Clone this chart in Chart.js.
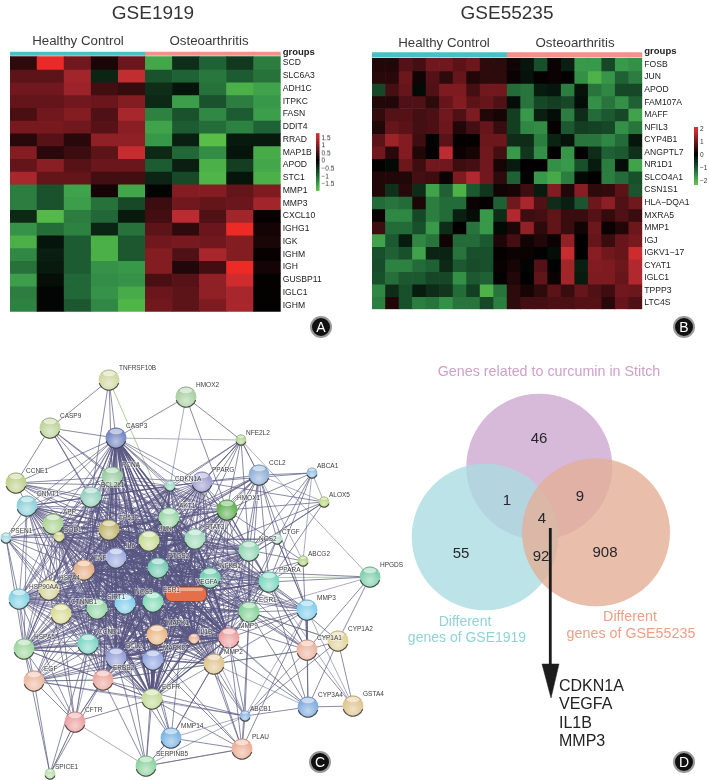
<!DOCTYPE html>
<html>
<head>
<meta charset="utf-8">
<title>Curcumin genes in osteoarthritis</title>
<script src="https://cdn.jsdelivr.net/npm/chart.js@4"></script>
<style>
    html, body { margin: 0; background: #fff; }
    #page { position: relative; width: 709px; height: 780px; overflow: hidden; font-family: "Liberation Sans", Arial, sans-serif; }
    canvas { position: absolute; filter: blur(0.4px); }
    .txt { position: absolute; transform: translate(-50%, -50%); white-space: nowrap; line-height: 1; filter: blur(0.3px); }
    .left { transform: translate(0, -50%); }
    .badge { position: absolute; width: 18px; height: 18px; margin: -11px 0 0 -11px; border: 2px solid #999; border-radius: 50%; background: #111; color: #fff; font-size: 14px; line-height: 18px; text-align: center; box-shadow: inset 0 0 0 1px #111; }
</style>
</head>
<body>
<div id="page"></div>
<script>
// panel A, GSE1919
const samplesA = ['C1', 'C2', 'C3', 'C4', 'C5', 'O1', 'O2', 'O3', 'O4', 'O5'];
const genesA = ['SCD', 'SLC6A3', 'ADH1C', 'ITPKC', 'FASN', 'DDIT4', 'RRAD', 'MAP1B', 'APOD', 'STC1',
    'MMP1', 'MMP3', 'CXCL10', 'IGHG1', 'IGK', 'IGHM', 'IGH', 'GUSBP11', 'IGLC1', 'IGHM'];
const valuesA = [
    [.35, 1.8, .85, .2, .8, -1.6, -.45, -.95, -.55, -1.2],
    [.7, .7, 1.25, -.35, 1.5, -.8, -.95, -1.15, -.9, -1.1],
    [.85, .85, 1.2, .5, .4, -.45, -.2, -1.1, -1.7, -1.55],
    [.75, .75, .85, .8, 1, -.4, -1.5, -.8, -1.2, -1.45],
    [.55, .85, 1, .6, 1.3, -1.25, -.8, -1.3, -.9, -1.5],
    [.9, .9, .85, .65, 1.05, -1.55, -.9, -1.05, -1.25, -.95],
    [.3, .65, .3, 1.1, 1.1, -1.45, -.3, -1.95, -.25, -.25],
    [1, .3, .45, .7, 1.55, -.4, -1, -1.35, -.2, -1.65],
    [.75, 1.05, .65, .8, .8, -.9, -.3, -1.7, -.6, -1.6],
    [1.3, .75, .75, .5, .5, -.35, -.7, -1.75, -.2, -1.7],
    [-1.2, -.8, -1.55, .15, -1.6, -.05, 1, 1, .75, .95],
    [-1.2, -.8, -1.5, -1.1, -.7, .45, .85, .75, .8, 1.25],
    [-.4, -1.8, -1.2, -1, -.25, .5, 1.45, .6, 1.25, .05],
    [-1.4, -1.05, -1.25, -.35, -1.1, .7, .35, .8, 1.85, .15],
    [-1.7, -.2, -.9, -1.7, -.85, .85, .9, .85, 1, .2],
    [-1.3, -.3, -.9, -1.7, -.85, 1, .6, 1.3, 1, .05],
    [-1.1, -.25, -.9, -1.4, -1.45, 1, .25, .5, 1.85, .15],
    [-1.5, -.15, -1, -1.35, -1.4, .55, .65, 1.1, 1.6, .03],
    [-1.2, -.05, -1, -1.4, -1.65, .8, .7, 1.1, 1.3, .03],
    [-1.25, -.05, -.85, -1.3, -1.75, .85, .7, .95, 1.3, .02]
];

// panel B, GSE55235
const samplesB = ['C1', 'C2', 'C3', 'C4', 'C5', 'C6', 'C7', 'C8', 'C9', 'C10',
    'O1', 'O2', 'O3', 'O4', 'O5', 'O6', 'O7', 'O8', 'O9', 'O10'];
const genesB = ['FOSB', 'JUN', 'APOD', 'FAM107A', 'MAFF', 'NFIL3', 'CYP4B1', 'ANGPTL7', 'NR1D1', 'SLCO4A1',
    'CSN1S1', 'HLA\u2212DQA1', 'MXRA5', 'MMP1', 'IGJ', 'IGKV1\u221217', 'CYAT1', 'IGLC1', 'TPPP3', 'LTC4S'];
const valuesB = [
    [.3, .3, .75, .6, 1, 1, .8, .95, .4, .4, .15, -.25, -.9, .1, -.35, -1.7, -1.7, -.8, -1.7, -1.6],
    [.35, .35, .95, .15, .75, .4, .9, .3, .4, .4, .1, -.2, .05, .1, .03, -1.6, -2, -1.65, -1.1, -1.4],
    [-.8, .6, .9, -.12, .7, 1.1, 1.1, .6, 1, 1, -1.2, -1.3, -.3, -.25, -1.4, -.2, -1.3, -1.5, -.8, -.8],
    [.3, .3, .7, .7, .4, .9, 1.15, .8, .9, .7, -.15, -1.3, -.8, -.7, -.8, -.15, -1.6, -1.3, -1.6, -1.1],
    [.45, .75, .75, .6, .65, 1, .7, 1.1, .3, .2, -.7, -1.7, -.35, -.15, -1.4, -.5, -1.2, -1, -.8, -1.8],
    [.3, .9, .8, .6, .65, .95, .3, .6, .9, .5, -.7, -1.5, -1.55, .05, -1, -.7, -.75, -.8, -1.6, -1.3],
    [.8, 1.4, 1.15, .55, -.05, .8, .05, .05, .95, .95, -.5, -.5, -1.4, -.4, -.2, -1.3, -1.3, -1.5, -1.2, -.25],
    [1, .35, 1.15, .3, .03, 1.7, .1, .2, 1, .6, -1.7, -.6, -1.6, .02, -1.65, .03, -.5, -1.1, -1, -.55],
    [.05, -.1, .95, .55, 1, 1, .55, .6, 1, .2, -.3, .02, .02, -1.6, -1.7, -.9, -.3, -1.4, -.15, -1.8],
    [.3, .3, .3, .6, .55, .1, 1.1, 1.6, 1, .4, -1.1, -.05, -1.7, -1.9, -1.4, -.1, .02, -1.4, -1.2, -.9],
    [.3, -.55, .35, -.5, -1.8, -1.1, -2, -1, -.6, .15, .2, .55, -.3, 1.15, .3, 1.2, .4, .45, .8, -.95],
    [-1.2, -1.3, -1.2, .25, -1.4, -1.2, -1.2, .1, .03, -1.1, 1, 1.5, .7, -.5, -.35, -.95, .95, 1.25, .7, 1],
    [.1, -1.5, -1.5, -.8, -1.4, -1.2, -.35, -.15, -1.7, -.5, 1.6, .55, .6, .85, .5, .5, .75, .45, .7, .5],
    [.55, -1.2, -1.2, -.9, -1.7, -.5, .02, -1.3, -1.7, -.1, .25, 1.3, .4, .85, .5, .15, .95, .1, .3, .95],
    [-1.8, -1, -.3, -1.5, -1.3, .15, -1.2, -1.2, -1, .25, .6, .15, .3, .1, 1.3, .02, .9, .5, .9, 1.05],
    [-.9, -1.1, -.9, -1.8, -.4, -.4, -1.3, -.9, -.9, .05, .1, .1, .03, -.15, 1.8, .02, 1.2, 1, .9, 1.85],
    [-.85, -1.45, -1.45, -1.2, -1.1, -.45, -1, -.85, -.9, .08, .2, -.05, .75, -.02, 1.45, -.35, 1.15, 1.1, .95, 1.6],
    [-.9, -1.25, -1, -1, -.8, -.8, -1.6, -1, -1.1, .03, .3, .02, .85, .1, 1.45, -.3, 1.1, 1.1, .9, 1.6],
    [-1.5, -.5, -.9, -.3, -.5, -.6, -1.2, -.7, -2, -1.3, .4, .2, .4, .8, .5, .9, .7, .55, 1, .95],
    [-1.4, .3, -.9, -1.4, -1.3, -1.6, -1.3, -1.3, -.8, -1.4, .4, .6, .6, .65, .65, .75, .75, .35, .9, .7]
];
const ticksLegendA = [1.5, 1, .5, 0, -.5, -1, -1.5];
const ticksLegendB = [2, 1, 0, -1, -2];

// panel C, network nodes (page pixels)
const nodeNames = ['TNFRSF10B', 'CASP9', 'CASP3', 'HMOX2', 'CCNE1', 'PCNA', 'BCL2L1', 'CDKN1A', 'PPARG', 'NFE2L2', 'CCL2', 'ABCA1',
    'ALOX5', 'DNMT1', 'APP', 'SOD1', 'PSEN1', 'TP53', 'AKT1', 'HMOX1', 'JUN', 'STAT3', 'CTGF', 'NOS2', 'ABCG2', 'HPGDS',
    'IL6', 'TNF', 'PTGS2', 'NFKB1', 'PPARA', 'HSP90AA1', 'HSPA4', 'CTNNB1', 'SIRT1', 'NOS3', 'ESR1', 'VEGFA', 'MAPK1', 'IL1B',
    'HSPA5', 'CCND1', 'BCL2', 'MAPK8', 'EGR1', 'MMP3', 'MMP9', 'MMP2', 'CYP1A1', 'CYP1A2', 'CYP3A4', 'GSTA4', 'ABCB1', 'PLAU',
    'EGF', 'ERBB2', 'EGFR', 'CFTR', 'MMP14', 'SERPINB5', 'SPICE1'];
const nodeX = [109, 50, 116, 186, 16, 112, 91, 170, 202, 241, 259, 312,
    324, 27, 53, 59, 6, 109, 169, 227, 149, 195, 277, 249, 303, 370,
    116, 84, 158, 210, 269, 19, 49, 61, 97, 125, 153, 186, 157, 194,
    24, 88, 116, 153, 249, 307, 229, 214, 307, 338, 308, 353, 245, 242,
    34, 103, 152, 75, 171, 146, 50];
const nodeY = [380, 428, 438, 397, 483, 477, 497, 486, 482, 440, 475, 473,
    502, 506, 524, 537, 538, 530, 518, 510, 541, 539, 539, 551, 561, 577,
    558, 570, 568, 578, 582, 599, 590, 614, 609, 604, 602, 594, 635, 639,
    649, 644, 658, 660, 612, 610, 638, 664, 650, 641, 707, 706, 716, 749,
    681, 680, 699, 722, 738, 766, 774];
const coreNodes = ['BCL2L1', 'CDKN1A', 'PPARG', 'TP53', 'AKT1', 'HMOX1', 'JUN', 'STAT3', 'NOS2', 'IL6', 'TNF', 'PTGS2', 'NFKB1',
    'PPARA', 'HSP90AA1', 'HSPA4', 'CTNNB1', 'SIRT1', 'NOS3', 'ESR1', 'VEGFA', 'MAPK1', 'IL1B', 'CCND1', 'BCL2', 'MAPK8',
    'EGR1', 'MMP9', 'MMP2', 'APP', 'HSPA5', 'SOD1', 'PCNA', 'DNMT1', 'ERBB2', 'EGFR', 'CASP3'];
const hubNodes = ['TP53', 'AKT1', 'JUN', 'STAT3', 'IL6', 'TNF', 'PTGS2', 'NFKB1', 'VEGFA', 'MAPK1', 'IL1B', 'MMP9', 'EGFR', 'CASP3', 'BCL2', 'ESR1'];
const midLinks = {
    TNFRSF10B: ['CASP3', 'PCNA', 'BCL2L1', 'CASP9'],
    CASP9: ['CASP3', 'PCNA', 'BCL2L1', 'TP53', 'AKT1', 'CCNE1', 'JUN'],
    CCNE1: ['CASP3', 'PCNA', 'CDKN1A', 'BCL2L1', 'TP53', 'AKT1', 'JUN', 'DNMT1', 'IL6', 'STAT3'],
    HMOX2: ['NFE2L2', 'HMOX1', 'CASP3'],
    CCL2: ['NFE2L2', 'PPARG', 'HMOX1', 'AKT1', 'STAT3', 'NOS2', 'PTGS2', 'NFKB1', 'IL6', 'TNF', 'ABCA1', 'PPARA', 'CTGF', 'VEGFA', 'MMP9', 'JUN', 'MMP3', 'EGR1'],
    NFE2L2: ['HMOX1', 'PPARG', 'AKT1', 'STAT3', 'NOS2', 'JUN', 'CDKN1A', 'TP53', 'PTGS2'],
    ABCA1: ['PPARG', 'PPARA', 'CTGF', 'HMOX1', 'NOS2'],
    ALOX5: ['PPARG', 'HMOX1', 'PTGS2', 'PPARA', 'NOS2', 'NFKB1'],
    CTGF: ['VEGFA', 'NFKB1', 'EGR1', 'TNF', 'MMP3', 'STAT3', 'JUN', 'MMP2'],
    ABCG2: ['PPARA', 'ESR1', 'HMOX1', 'CYP1A1', 'STAT3'],
    HPGDS: ['PTGS2', 'PPARA', 'CYP1A2', 'CYP1A1'],
    MMP3: ['EGR1', 'PPARA', 'CYP1A1', 'CTGF', 'VEGFA', 'TNF', 'IL1B', 'MMP9', 'MMP2', 'PLAU', 'IL6', 'NFKB1', 'STAT3', 'JUN'],
    CYP1A1: ['CYP1A2', 'CYP3A4', 'GSTA4', 'EGR1', 'MMP2', 'PPARA', 'ESR1', 'AKT1', 'ABCB1', 'HMOX1', 'NFKB1', 'TP53'],
    CYP1A2: ['CYP3A4', 'GSTA4', 'PPARA', 'ABCB1', 'EGR1'],
    CYP3A4: ['GSTA4', 'ABCB1', 'PPARA', 'EGR1', 'ESR1', 'MMP3'],
    ABCB1: ['EGR1', 'MMP2', 'EGFR', 'PLAU', 'TP53', 'MMP9', 'ERBB2'],
    PLAU: ['MMP2', 'EGR1', 'MMP9', 'EGFR', 'MMP14', 'SERPINB5', 'VEGFA', 'MAPK8', 'TNF'],
    MMP14: ['EGFR', 'SERPINB5', 'MMP2', 'BCL2', 'MAPK8', 'VEGFA', 'MMP9', 'TP53'],
    SERPINB5: ['EGFR', 'ERBB2', 'TP53', 'MAPK8', 'BCL2'],
    CFTR: ['ERBB2', 'EGF', 'CTNNB1', 'EGFR', 'HSP90AA1', 'HSPA5', 'HSPA4', 'STAT3', 'CCND1'],
    SPICE1: ['CFTR', 'EGF', 'ERBB2', 'CCND1', 'HSPA5'],
    EGF: ['ERBB2', 'EGFR', 'HSPA5', 'TP53', 'AKT1', 'CTNNB1', 'MAPK1', 'BCL2', 'MAPK8', 'MMP9', 'VEGFA', 'IL6', 'HSP90AA1', 'CCND1'],
    PSEN1: ['APP', 'DNMT1', 'HSP90AA1', 'TP53', 'AKT1', 'CTNNB1', 'SIRT1', 'CASP3', 'HSPA5', 'HSPA4', 'BCL2', 'IL6', 'TNF', 'SOD1']
};
const lightLinks = {
    HMOX2: ['CDKN1A'],
    NFE2L2: ['HPGDS', 'CASP3', 'CCL2'],
    CCL2: ['ALOX5', 'ABCG2'],
    ABCA1: ['ABCG2', 'ALOX5'],
    HPGDS: ['EGR1'],
    SERPINB5: ['CFTR', 'ABCB1', 'PLAU', 'MMP14'],
    CFTR: ['TP53', 'IL6'],
    ABCB1: ['MMP3', 'MMP14', 'EGF', 'VEGFA'],
    CYP3A4: ['MMP9', 'MMP2', 'TP53'],
    GSTA4: ['MMP3', 'PPARA']
};
const greenLinks = [['TNFRSF10B', 'AKT1'], ['CASP3', 'STAT3'], ['NFKB1', 'HPGDS'], ['MMP9', 'CYP3A4'], ['CFTR', 'SPICE1'],
    ['EGF', 'HMOX1'], ['ERBB2', 'CYP1A1'], ['ERBB2', 'EGF'], ['EGR1', 'CYP1A2'], ['VEGFA', 'CCL2'], ['DNMT1', 'STAT3']];

// panel D, venn circles and gene counts
const vennX = [539.3, 485, 596];
const vennY = [466.7, 537, 532.3];
const vennR = [73, 73.3, 74];
const vennCounts = ['46', '1', '9', '4', '55', '92', '908'];
const vennCountX = [539, 507, 580, 542, 461, 541, 605];
const vennCountY = [439, 501, 497, 519, 554, 557, 553];
const sharedGenes = ['CDKN1A', 'VEGFA', 'IL1B', 'MMP3'];

const page = document.getElementById('page');

function addCanvas(left, top, width, height) {
    const canvas = document.createElement('canvas');
    canvas.width = width;
    canvas.height = height;
    canvas.style.left = left + 'px';
    canvas.style.top = top + 'px';
    canvas.style.width = width + 'px';
    canvas.style.height = height + 'px';
    page.appendChild(canvas);
    return canvas;
}

function addText(text, x, y, size, color, cls) {
    const el = document.createElement('div');
    el.className = 'txt ' + (cls || '');
    el.textContent = text;
    el.style.left = x + 'px';
    el.style.top = y + 'px';
    el.style.fontSize = size + 'px';
    el.style.color = color;
    page.appendChild(el);
}

function addBadge(letter, x, y) {
    const el = document.createElement('div');
    el.className = 'badge';
    el.textContent = letter;
    el.style.left = x + 'px';
    el.style.top = y + 'px';
    page.appendChild(el);
}

const redStops = [[0, 0, 0], [122, 26, 32], [190, 45, 50], [238, 42, 39]];
const greenStops = [[0, 0, 0], [30, 95, 52], [58, 155, 75], [88, 190, 72]];

function heatColor(z, zMax) {
    const f = Math.min(Math.abs(z) / zMax, 1);
    const stops = z >= 0 ? redStops : greenStops;
    const at = [0, .5, .8, 1];
    let i = 0;
    while (i < 2 && f > at[i + 1]) i++;
    const t = (f - at[i]) / (at[i + 1] - at[i]);
    const mix = stops[i].map((c, k) => Math.round(c + (stops[i + 1][k] - c) * t));
    return `rgb(${mix[0]}, ${mix[1]}, ${mix[2]})`;
}

const baseOptions = {
    responsive: false,
    animation: false,
    events: [],
    plugins: { legend: { display: false }, tooltip: { enabled: false } }
};

function drawHeatmap(cfg) {
    const canvas = addCanvas(cfg.left, 0, cfg.width, 320);
    const rows = cfg.values.map((row, r) => ({
        data: row.map(() => [r, r + 1]),
        backgroundColor: row.map(z => heatColor(z, cfg.zMax)),
        borderWidth: 0,
        barPercentage: 1,
        categoryPercentage: 1,
        grouped: false
    }));
    const half = cfg.samples.length / 2;
    rows.push({
        data: cfg.samples.map(() => cfg.groupBar),
        backgroundColor: cfg.samples.map((_, i) => i < half ? '#47c1c6' : '#f2908a'),
        borderWidth: 0,
        barPercentage: 1,
        categoryPercentage: 1,
        grouped: false
    });
    const tickValues = [cfg.groupTick].concat(cfg.genes.map((_, i) => i + 0.5));
    new Chart(canvas.getContext('2d'), {
        type: 'bar',
        data: { labels: cfg.samples, datasets: rows },
        options: {
            ...baseOptions,
            layout: { autoPadding: false, padding: { left: cfg.padLeft, right: 0, top: cfg.padTop, bottom: cfg.padBottom } },
            scales: {
                x: { display: false },
                y: {
                    position: 'right',
                    reverse: true,
                    min: cfg.yMin,
                    max: 20,
                    grid: { display: false, drawTicks: false },
                    border: { display: false },
                    afterFit: scale => { scale.width = cfg.axisWidth; },
                    afterBuildTicks: scale => { scale.ticks = tickValues.map(value => ({ value })); },
                    ticks: {
                        autoSkip: false,
                        padding: 2,
                        minRotation: 0,
                        maxRotation: 0,
                        color: '#222',
                        font: ctx => (ctx.tick && ctx.tick.value < 0)
                            ? { family: 'Liberation Sans', size: 9.5, weight: 'bold' }
                            : { family: 'Liberation Sans', size: 8.6 },
                        callback: value => value < 0 ? 'groups' : cfg.genes[Math.floor(value)]
                    }
                }
            }
        }
    });
}

function drawColorKey(cfg) {
    const canvas = addCanvas(cfg.left, cfg.top, cfg.width, cfg.height);
    const steps = [];
    for (let v = cfg.min; v < cfg.max; v += 0.1) {
        steps.push({
            data: [[v, v + 0.11]],
            backgroundColor: heatColor(v + 0.05, cfg.zMax),
            borderWidth: 0,
            barPercentage: 1,
            categoryPercentage: 1,
            grouped: false
        });
    }
    new Chart(canvas.getContext('2d'), {
        type: 'bar',
        data: { labels: ['key'], datasets: steps },
        options: {
            ...baseOptions,
            layout: { autoPadding: false, padding: { left: cfg.padLeft, right: 0, top: 6, bottom: 6 } },
            scales: {
                x: { display: false },
                y: {
                    position: 'right',
                    min: cfg.min,
                    max: cfg.max,
                    grid: { display: false, drawTicks: false },
                    border: { display: false },
                    afterFit: scale => { scale.width = cfg.axisWidth; },
                    afterBuildTicks: scale => { scale.ticks = cfg.ticks.map(value => ({ value })); },
                    ticks: {
                        autoSkip: false,
                        padding: 2,
                        color: '#333',
                        font: { family: 'Liberation Sans', size: 6.5 },
                        callback: value => String(value).replace('-', '\u2212')
                    }
                }
            }
        }
    });
}

drawHeatmap({ left: 0, width: 345, samples: samplesA, genes: genesA, values: valuesA, zMax: 1.85, yMin: -0.55,
    groupBar: [-0.37, -0.11], groupTick: -0.37, padLeft: 10, padTop: 49.69, padBottom: 8.3, axisWidth: 64.3 });
drawHeatmap({ left: 355, width: 354, samples: samplesB, genes: genesB, values: valuesB, zMax: 2.15, yMin: -0.7,
    groupBar: [-0.446, -0.08], groupTick: -0.58, padLeft: 17, padTop: 49.5, padBottom: 10.7, axisWidth: 66.7 });
drawColorKey({ left: 310, top: 127, width: 32, height: 69.7, min: -1.93, max: 1.82, zMax: 1.85, ticks: ticksLegendA, padLeft: 6, axisWidth: 22.5 });
drawColorKey({ left: 688, top: 121, width: 21, height: 70, min: -2.3, max: 2.15, zMax: 2.15, ticks: ticksLegendB, padLeft: 6, axisWidth: 11 });

// sphere and pill images for the network nodes
const nodeColors = {
    TNFRSF10B: '#d2d9a4', CASP9: '#bfd59c', CASP3: '#7788c4', HMOX2: '#abd1a4', CCNE1: '#c2d28e', PCNA: '#9ccda4', BCL2L1: '#98d2c2',
    CDKN1A: '#9cd6c6', PPARG: '#a0a0d2', NFE2L2: '#b0d494', CCL2: '#92b2d8', ABCA1: '#94bee0', ALOX5: '#bed884', DNMT1: '#90d2dc',
    APP: '#aed496', SOD1: '#d0d48a', PSEN1: '#a2d8e0', TP53: '#c2b672', AKT1: '#9cd8aa', HMOX1: '#66b258', JUN: '#c8dc94',
    STAT3: '#a2dcbe', CTGF: '#b8e0d2', NOS2: '#94d8b6', ABCG2: '#b2d486', HPGDS: '#84d0ae', IL6: '#a0aee0', TNF: '#e6b28a',
    PTGS2: '#78ccb6', NFKB1: '#78d0b2', PPARA: '#80d8c2', HSP90AA1: '#88d4e4', HSPA4: '#d8d49a', CTNNB1: '#dcdc9a', SIRT1: '#98d8aa',
    NOS3: '#88d0ec', ESR1: '#88dcba', MAPK1: '#ecba8a', IL1B: '#ecb29a', HSPA5: '#a0d8a2', CCND1: '#80d8c6', BCL2: '#98a2d8',
    MAPK8: '#98aae0', EGR1: '#88d49a', MMP3: '#88d0ec', MMP9: '#eca2a2', MMP2: '#e0c692', CYP1A1: '#ecb6a2', CYP1A2: '#e0d49a',
    CYP3A4: '#84aee0', GSTA4: '#e0c692', ABCB1: '#8cb6e4', PLAU: '#ecb29a', EGF: '#ecbaa2', ERBB2: '#ecaaa2', EGFR: '#c6dc9a',
    CFTR: '#eca2a2', MMP14: '#80b6e4', SERPINB5: '#90d4a2', SPICE1: '#b8e0aa'
};
const smallNodes = ['CDKN1A', 'NFE2L2', 'ABCA1', 'ALOX5', 'SOD1', 'PSEN1', 'CTGF', 'ABCG2', 'IL1B', 'ABCB1', 'SPICE1'];

function sphereImage(color, r) {
    const c = document.createElement('canvas');
    c.width = c.height = 2 * r + 3;
    const m = r + 1.5;
    const g = c.getContext('2d');
    g.beginPath();
    g.arc(m, m, r, 0, Math.PI * 2);
    g.fillStyle = color;
    g.fill();
    let glow = g.createRadialGradient(m, m + r * 0.35, 0, m, m + r * 0.35, r);
    glow.addColorStop(0, 'rgba(255,255,255,.5)');
    glow.addColorStop(1, 'rgba(255,255,255,0)');
    g.fillStyle = glow;
    g.fill();
    g.beginPath();
    g.ellipse(m, m - r * 0.62, r * 0.6, r * 0.26, 0, 0, Math.PI * 2);
    g.fillStyle = 'rgba(255,255,255,.55)';
    g.fill();
    g.beginPath();
    g.arc(m, m, r - 0.3, Math.PI * 0.1, Math.PI * 0.9);
    g.strokeStyle = 'rgba(40,40,40,.8)';
    g.lineWidth = 1.2;
    g.stroke();
    g.beginPath();
    g.arc(m, m, r - 0.3, Math.PI * 1.2, Math.PI * 1.8);
    g.strokeStyle = 'rgba(60,60,60,.35)';
    g.lineWidth = 0.7;
    g.stroke();
    return c;
}

function pillImage(color, w, h) {
    const c = document.createElement('canvas');
    c.width = w;
    c.height = h;
    const g = c.getContext('2d');
    g.beginPath();
    g.roundRect(0.5, 0.5, w - 1, h - 1, h / 2.6);
    g.fillStyle = color;
    g.fill();
    g.strokeStyle = 'rgba(90,40,30,.5)';
    g.stroke();
    g.beginPath();
    g.roundRect(4, 2, w - 8, 3, 1.5);
    g.fillStyle = 'rgba(255,255,255,.4)';
    g.fill();
    return c;
}

const nodePoint = name => {
    const i = nodeNames.indexOf(name);
    return { x: nodeX[i], y: nodeY[i] };
};
const allPairs = list => list.flatMap((a, i) => list.slice(i + 1).map(b => [a, b]));
const mapPairs = links => Object.keys(links).flatMap(a => links[a].map(b => [a, b]));
const edgePath = pairs => pairs.flatMap(([a, b]) => [nodePoint(a), nodePoint(b), { x: NaN, y: NaN }]);

function edgeSet(pairs, color, width) {
    return {
        data: edgePath(pairs),
        showLine: true,
        borderColor: color,
        borderWidth: width,
        pointRadius: 0,
        spanGaps: false,
        order: 2
    };
}

// draws text at data coordinates of a chart
function labelPlugin(items, font, color, halo) {
    return {
        id: 'itemLabels',
        afterDatasetsDraw(chart) {
            const { ctx, scales } = chart;
            ctx.save();
            ctx.font = font;
            ctx.textBaseline = 'middle';
            ctx.textAlign = items.align || 'left';
            items.forEach(item => {
                const px = scales.x.getPixelForValue(item.x);
                const py = scales.y.getPixelForValue(item.y);
                if (halo) {
                    ctx.strokeStyle = halo;
                    ctx.lineWidth = 1.5;
                    ctx.strokeText(item.text, px, py);
                }
                ctx.fillStyle = color;
                ctx.fillText(item.text, px, py);
            });
            ctx.restore();
        }
    };
}

const nodeLabels = nodeNames.map((text, i) => {
    const small = smallNodes.includes(text);
    return { text, x: nodeX[i] + (small ? 5 : 10), y: nodeY[i] - (small ? 7 : 12) };
});

new Chart(addCanvas(0, 355, 410, 425).getContext('2d'), {
    type: 'scatter',
    data: {
        datasets: [
            edgeSet(allPairs(coreNodes), 'rgba(88,86,130,.7)', 0.9),
            edgeSet(allPairs(hubNodes), 'rgba(58,56,104,.75)', 1.4),
            edgeSet(mapPairs(midLinks), 'rgba(90,88,130,.7)', 1),
            edgeSet(mapPairs(lightLinks), 'rgba(150,150,180,.8)', 1),
            edgeSet(greenLinks, 'rgba(150,188,125,.85)', 0.9),
            {
                data: nodeNames.map(nodePoint),
                pointStyle: nodeNames.map(name => name === 'VEGFA'
                    ? pillImage('#e46f4a', 42, 16)
                    : sphereImage(nodeColors[name], smallNodes.includes(name) ? 5.5 : 10.5)),
                showLine: false,
                order: 1
            }
        ]
    },
    options: {
        ...baseOptions,
        clip: false,
        layout: { autoPadding: false },
        scales: {
            x: { display: false, min: 0, max: 410 },
            y: { display: false, reverse: true, min: 355, max: 780 }
        }
    },
    plugins: [labelPlugin(nodeLabels, '6.5px "Liberation Sans"', '#3c3c3c', 'rgba(255,255,255,.55)')]
});

// venn panel
const countLabels = vennCounts.map((text, i) => ({ text, x: vennCountX[i], y: vennCountY[i] }));
countLabels.align = 'center';
new Chart(addCanvas(390, 355, 319, 425).getContext('2d'), {
    data: {
        datasets: [
            {
                type: 'bubble',
                data: vennX.map((x, i) => ({ x, y: vennY[i], r: vennR[i] })),
                backgroundColor: ['#d7b9d9', 'rgba(171,220,225,.8)', 'rgba(227,175,151,.8)'],
                borderWidth: 0,
                order: 2
            },
            {
                type: 'scatter',
                data: [{ x: 550.3, y: 528 }, { x: 550.3, y: 668 }],
                showLine: true,
                borderColor: '#1c1c1c',
                borderWidth: 2.8,
                pointRadius: 0,
                order: 1
            },
            {
                type: 'scatter',
                data: [{ x: 542, y: 664 }, { x: 559, y: 664 }, { x: 551, y: 698 }, { x: 542, y: 664 }],
                showLine: true,
                fill: 'shape',
                backgroundColor: '#1c1c1c',
                borderColor: '#1c1c1c',
                borderWidth: 0.5,
                pointRadius: 0,
                order: 1
            }
        ]
    },
    options: {
        ...baseOptions,
        clip: false,
        layout: { autoPadding: false },
        scales: {
            x: { type: 'linear', display: false, min: 390, max: 709 },
            y: { type: 'linear', display: false, reverse: true, min: 355, max: 780 }
        }
    },
    plugins: [labelPlugin(countLabels, '15px "Liberation Sans"', '#26262c')]
});

// page text
addText('GSE1919', 153, 12, 19, '#333');
addText('GSE55235', 507, 12, 19, '#333');
addText('Healthy Control', 78, 41, 13.3, '#3a3a3a');
addText('Osteoarthritis', 209, 41, 13.3, '#3a3a3a');
addText('Healthy Control', 444, 43, 13.3, '#3a3a3a');
addText('Osteoarthritis', 575, 43, 13.3, '#3a3a3a');
addText('Genes related to curcumin in Stitch', 549, 371, 14.3, '#cf9fcb');
addText('Different', 465, 621, 14, '#8fd3d8');
addText('genes of GSE1919', 467, 637, 14, '#8fd3d8');
addText('Different', 630, 616, 14.3, '#ee9f85');
addText('genes of GSE55235', 631, 633, 14.3, '#ee9f85');
sharedGenes.forEach((gene, i) => addText(gene, 559, 686 + i * 18.3, 16, '#222', 'left'));
addBadge('A', 321, 327);
addBadge('B', 684, 327);
addBadge('C', 320, 762);
addBadge('D', 684, 762);
</script>
</body>
</html>
